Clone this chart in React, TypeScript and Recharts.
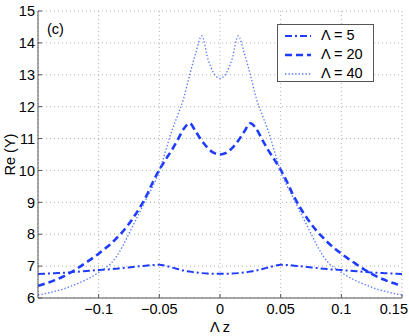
import { LineChart, Line, XAxis, YAxis, CartesianGrid, Legend } from "recharts"

// Λ z sample positions
const lambdaZ = [
  -0.15, -0.145, -0.14, -0.135, -0.13, -0.125, -0.12, -0.115, -0.11, -0.105,
  -0.1, -0.095, -0.09, -0.085, -0.08, -0.075, -0.07, -0.065, -0.06, -0.055,
  -0.05, -0.045, -0.04, -0.035, -0.03, -0.025, -0.02, -0.015, -0.01, -0.005,
  0,
  0.005, 0.01, 0.015, 0.02, 0.025, 0.03, 0.035, 0.04, 0.045, 0.05,
  0.055, 0.06, 0.065, 0.07, 0.075, 0.08, 0.085, 0.09, 0.095, 0.1,
  0.105, 0.11, 0.115, 0.12, 0.125, 0.13, 0.135, 0.14, 0.145, 0.15
]

// Re (Y) for Λ = 5
const reY5 = [
  6.75, 6.76, 6.77, 6.78, 6.79, 6.8, 6.82, 6.83, 6.85, 6.86,
  6.88, 6.89, 6.9, 6.92, 6.94, 6.96, 6.98, 7.0, 7.02, 7.035,
  7.04, 7.01, 6.96, 6.91, 6.86, 6.83, 6.8, 6.78, 6.765, 6.76,
  6.76,
  6.76, 6.765, 6.78, 6.8, 6.83, 6.86, 6.91, 6.96, 7.01, 7.04,
  7.035, 7.02, 7.0, 6.98, 6.96, 6.94, 6.92, 6.9, 6.89, 6.88,
  6.86, 6.85, 6.83, 6.82, 6.8, 6.79, 6.78, 6.77, 6.76, 6.75
]

// Re (Y) for Λ = 20
const reY20 = [
  6.38, 6.44, 6.5, 6.58, 6.66, 6.76, 6.87, 6.99, 7.12, 7.25,
  7.39, 7.54, 7.7, 7.89, 8.09, 8.33, 8.6, 8.9, 9.25, 9.66,
  10.02, 10.33, 10.62, 10.95, 11.3, 11.48, 11.22, 10.93, 10.7, 10.55,
  10.5,
  10.55, 10.7, 10.93, 11.22, 11.48, 11.3, 10.95, 10.62, 10.33, 10.02,
  9.66, 9.25, 8.9, 8.6, 8.33, 8.09, 7.89, 7.7, 7.54, 7.39,
  7.25, 7.12, 6.99, 6.87, 6.76, 6.66, 6.58, 6.5, 6.44, 6.38
]

// Re (Y) for Λ = 40
const reY40 = [
  6.1, 6.13, 6.17, 6.22, 6.27, 6.34, 6.41, 6.49, 6.58, 6.68,
  6.8, 6.93, 7.08, 7.32, 7.64, 8.02, 8.4, 8.78, 9.17, 9.53,
  9.97, 10.59, 11.21, 11.72, 12.25, 13.0, 13.68, 14.22, 13.5, 13.04,
  12.89,
  13.04, 13.5, 14.22, 13.68, 13.0, 12.25, 11.72, 11.21, 10.59, 9.97,
  9.53, 9.17, 8.78, 8.4, 8.02, 7.64, 7.32, 7.08, 6.93, 6.8,
  6.68, 6.58, 6.49, 6.41, 6.34, 6.27, 6.22, 6.17, 6.13, 6.1
]

const xTicks = [-0.1, -0.05, 0, 0.05, 0.1, 0.15]
const yTicks = [6, 7, 8, 9, 10, 11, 12, 13, 14, 15]

const FONT = '"Liberation Sans", Arial, Helvetica, sans-serif'
const FS = 14.5
const AXIS = "#555"

// series styles (MATLAB-ish blue)
const series = [
  { key: "l5", name: "\u039b = 5", color: "#1e3cff", width: 2, dash: "7 3 2 3" },
  { key: "l20", name: "\u039b = 20", color: "#1e3cff", width: 2.6, dash: "7 4" },
  { key: "l40", name: "\u039b = 40", color: "#5575ff", width: 1.3, dash: "1.4 2" }
]

const data = lambdaZ.map((x, i) => ({
  x,
  l5: reY5[i],
  l20: reY20[i],
  l40: reY40[i]
}))

const fmt = (v: number) => (v < 0 ? "\u2212" + String(-v) : String(v))

// bottom ticks: small inward tick, label below (last one pulled in so it isn't cut)
const BottomTick = ({ x, y, payload }: any) => {
  const last = payload.value === 0.15
  return (
    <g>
      <line x1={x} x2={x} y1={y} y2={y - 4} stroke={AXIS} />
      <text
        x={last ? 408 : x}
        y={y + 5}
        dy="0.75em"
        textAnchor={last ? "end" : "middle"}
        fill="#000"
        fontSize={FS}
        fontFamily={FONT}
      >
        {fmt(payload.value)}
      </text>
    </g>
  )
}

const LeftTick = ({ x, y, payload }: any) => (
  <g>
    <line x1={x} x2={x + 4} y1={y} y2={y} stroke={AXIS} />
    <text x={x - 3} y={y} dy="0.36em" textAnchor="end" fill="#000" fontSize={FS} fontFamily={FONT}>
      {payload.value}
    </text>
  </g>
)

const TopTick = ({ x, y }: any) => <line x1={x} x2={x} y1={y} y2={y + 4} stroke={AXIS} />
const RightTick = ({ x, y }: any) => <line x1={x} x2={x - 4} y1={y} y2={y} stroke={AXIS} />

const YLabel = ({ viewBox }: any) => {
  const cy = viewBox ? viewBox.y + viewBox.height / 2 : 154
  return (
    <text
      x={10}
      y={cy}
      transform={`rotate(-90 10 ${cy})`}
      textAnchor="middle"
      dominantBaseline="central"
      fill="#000"
      fontSize={FS}
      fontFamily={FONT}
    >
      Re (Y)
    </text>
  )
}

const LegendBox = () => (
  <div
    style={{
      width: 97,
      height: 58,
      boxSizing: "border-box",
      border: `1px solid ${AXIS}`,
      background: "#fff",
      fontFamily: FONT,
      fontSize: FS,
      color: "#000",
      paddingTop: 1
    }}
  >
    {series.map(s => (
      <div key={s.key} style={{ display: "flex", alignItems: "center", height: 19 }}>
        <svg width={43} height={10} style={{ flex: "none" }}>
          <line x1={7} x2={33} y1={5} y2={5} stroke={s.color} strokeWidth={s.width} strokeDasharray={s.dash} />
        </svg>
        <span style={{ lineHeight: "19px" }}>{s.name}</span>
      </div>
    ))}
  </div>
)

export default function App() {
  return (
    <div style={{ position: "absolute", left: 0, top: 0, width: 409, height: 336, background: "#fff" }}>
      <LineChart width={409} height={336} data={data} margin={{ top: 11, right: 7, bottom: 0, left: 0 }}>
        <CartesianGrid stroke="#b0b0b0" strokeDasharray="1 3" />
        <XAxis
          dataKey="x"
          type="number"
          domain={[-0.15, 0.15]}
          ticks={xTicks}
          allowDataOverflow
          height={38}
          stroke={AXIS}
          tickSize={0}
          tickMargin={0}
          tickLine={false}
          tick={<BottomTick />}
          interval={0}
          label={{ value: "\u039b z", position: "insideBottom", offset: 4, fill: "#000", fontSize: FS, fontFamily: FONT }}
        />
        <XAxis
          xAxisId="top"
          orientation="top"
          dataKey="x"
          type="number"
          domain={[-0.15, 0.15]}
          ticks={xTicks}
          allowDataOverflow
          height={0}
          stroke={AXIS}
          tickSize={0}
          tickMargin={0}
          tickLine={false}
          tick={<TopTick />}
          interval={0}
        />
        <YAxis
          type="number"
          domain={[6, 15]}
          ticks={yTicks}
          allowDataOverflow
          width={38}
          stroke={AXIS}
          tickSize={0}
          tickMargin={0}
          tickLine={false}
          tick={<LeftTick />}
          interval={0}
          label={<YLabel />}
        />
        <YAxis
          yAxisId="right"
          orientation="right"
          type="number"
          domain={[6, 15]}
          ticks={yTicks}
          allowDataOverflow
          width={0}
          stroke={AXIS}
          tickSize={0}
          tickMargin={0}
          tickLine={false}
          tick={<RightTick />}
          interval={0}
        />
        {series.map(s => (
          <Line
            key={s.key}
            dataKey={s.key}
            name={s.name}
            type="monotone"
            stroke={s.color}
            strokeWidth={s.width}
            strokeDasharray={s.dash}
            dot={false}
            isAnimationActive={false}
          />
        ))}
        <Legend
          layout="vertical"
          align="center"
          verticalAlign="middle"
          content={<LegendBox />}
          wrapperStyle={{ position: "absolute", left: 277, top: 24, width: 97, height: 58 }}
        />
      </LineChart>
      <div style={{ position: "absolute", left: 47, top: 21, fontFamily: FONT, fontSize: FS, color: "#000", lineHeight: "16px" }}>
        (c)
      </div>
    </div>
  )
}
